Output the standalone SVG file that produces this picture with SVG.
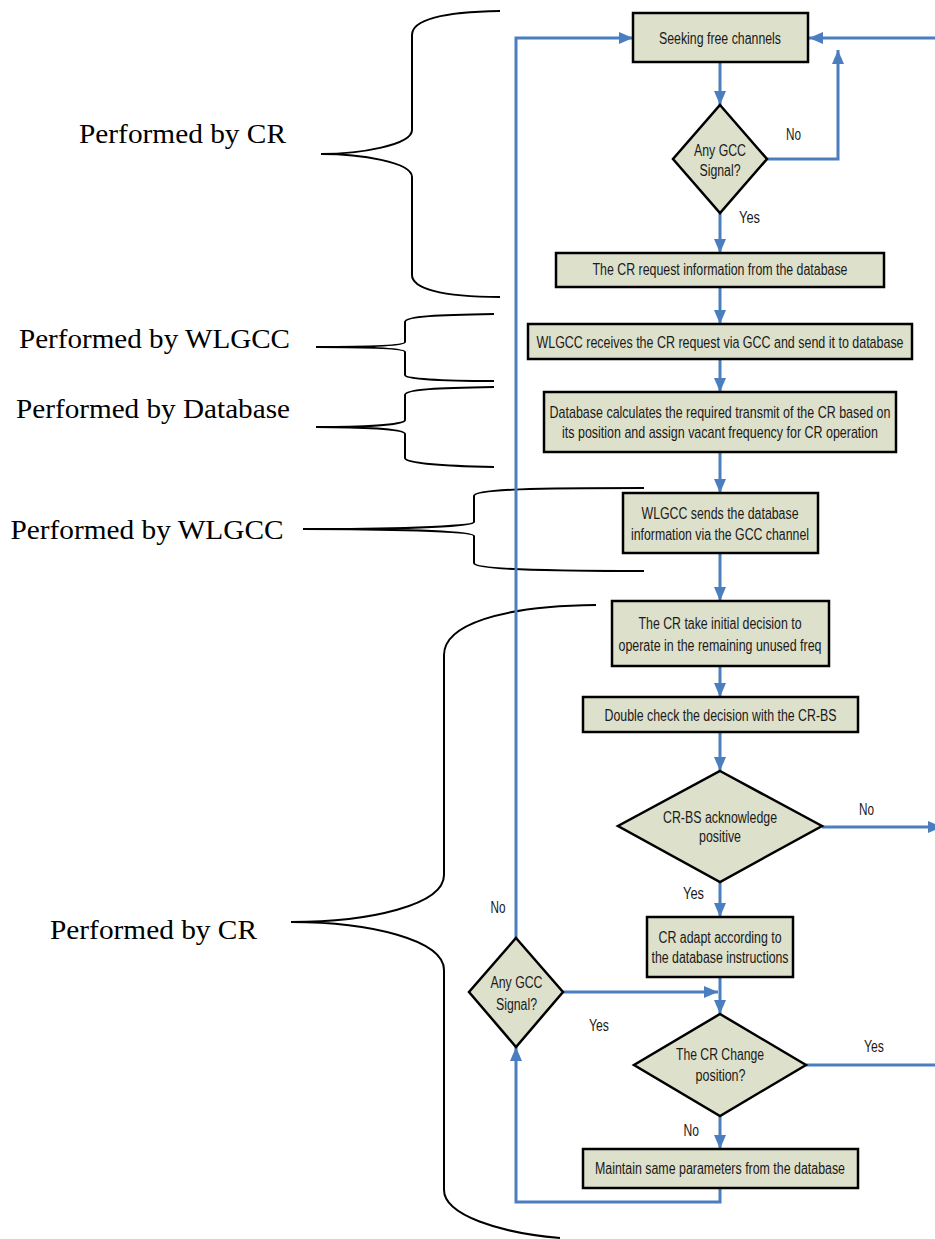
<svg xmlns="http://www.w3.org/2000/svg" width="935" height="1239" viewBox="0 0 935 1239">
<defs>
<style>
.box{fill:#dde0ca;stroke:#000;stroke-width:2.5}
.t{font-family:"Liberation Sans",Arial,sans-serif;font-size:16px;fill:#1a1a1a;text-anchor:middle}
.l{font-family:"Liberation Sans",Arial,sans-serif;font-size:16px;fill:#1a1a1a}
.c{fill:none;stroke:#4a7ebf;stroke-width:3}
.b{fill:none;stroke:#000;stroke-width:2}
.p{font-family:"Liberation Serif","Times New Roman",serif;font-size:28px;fill:#000}
</style>
<marker id="ah" markerUnits="userSpaceOnUse" markerWidth="14" markerHeight="12" refX="14" refY="6" orient="auto">
<path d="M0,0 L14,6 L0,12 z" fill="#4a7ebf"/>
</marker>
</defs>
<rect width="935" height="1239" fill="#fff"/>

<g id="braces">
<path class="b" d="M500,11 C440,12 412,20 412,35 L412,130 C412,145 360,154 321,154 C360,154 412,162 412,177 L412,275 C412,288 440,297 500,297"/>
<path class="b" d="M494,314 C440,315 405,316 405,322 L405,342 C405,346 360,347 316,347 C360,347 405,348 405,352 L405,375 C405,379 440,381 494,381"/>
<path class="b" d="M494,387 C440,388 405,389 405,395 L405,420 C405,425 360,427 316,427 C360,427 405,429 405,434 L405,458 C405,463 440,466 494,467"/>
<path class="b" d="M644,488 C540,488 474,489 474,496 L474,522 C474,527 380,529 303,529 C380,529 474,531 474,536 L474,563 C474,569 540,571 644,571"/>
<path class="b" d="M596,605 C500,606 444,625 444,655 L444,875 C444,905 370,922 291,922 C370,922 444,940 444,970 L444,1190 C444,1215 500,1233 560,1238"/>
</g>

<g id="labels-performed">
<text class="p" x="79" y="143" textLength="207" lengthAdjust="spacingAndGlyphs">Performed by CR</text>
<text class="p" x="19" y="348" textLength="271" lengthAdjust="spacingAndGlyphs">Performed by WLGCC</text>
<text class="p" x="16" y="418" textLength="274" lengthAdjust="spacingAndGlyphs">Performed by Database</text>
<text class="p" x="10.5" y="539" textLength="273" lengthAdjust="spacingAndGlyphs">Performed by WLGCC</text>
<text class="p" x="50" y="939" textLength="207" lengthAdjust="spacingAndGlyphs">Performed by CR</text>
</g>

<g id="connectors">
<path class="c" d="M720,62 L720,105" marker-end="url(#ah)"/>
<path class="c" d="M767,159 L838,159 L838,50" marker-end="url(#ah)"/>
<path class="c" d="M935,38 L809,38" marker-end="url(#ah)"/>
<path class="c" d="M720,213 L720,253" marker-end="url(#ah)"/>
<path class="c" d="M720,287 L720,324" marker-end="url(#ah)"/>
<path class="c" d="M720,359 L720,392" marker-end="url(#ah)"/>
<path class="c" d="M720,452 L720,493" marker-end="url(#ah)"/>
<path class="c" d="M720,553 L720,601" marker-end="url(#ah)"/>
<path class="c" d="M720,666 L720,697" marker-end="url(#ah)"/>
<path class="c" d="M720,732 L720,771" marker-end="url(#ah)"/>
<path class="c" d="M822,827 L942,827" marker-end="url(#ah)"/>
<path class="c" d="M720,882 L720,917" marker-end="url(#ah)"/>
<path class="c" d="M720,977 L720,1014" marker-end="url(#ah)"/>
<path class="c" d="M563,992 L718,992" marker-end="url(#ah)"/>
<path class="c" d="M806,1065 L935,1065"/>
<path class="c" d="M720,1116 L720,1149" marker-end="url(#ah)"/>
<path class="c" d="M720,1188 L720,1202 L516,1202 L516,1047" marker-end="url(#ah)"/>
<path class="c" d="M516,938 L516,38 L633,38" marker-end="url(#ah)"/>
</g>

<g id="n-seek">
<rect class="box" x="633" y="13" width="175" height="49"/>
<text class="t" x="720" y="43.5" textLength="122" lengthAdjust="spacingAndGlyphs">Seeking free channels</text>
</g>
<g id="n-gcc1">
<polygon class="box" points="720,105 767,159 720,213 673,159"/>
<text class="t" x="720" y="156" textLength="52" lengthAdjust="spacingAndGlyphs">Any GCC</text>
<text class="t" x="720" y="175.5" textLength="41" lengthAdjust="spacingAndGlyphs">Signal?</text>
</g>
<g id="n-request">
<rect class="box" x="556" y="253" width="328" height="34"/>
<text class="t" x="720" y="274.5" textLength="255" lengthAdjust="spacingAndGlyphs">The CR request information from the database</text>
</g>
<g id="n-wlgcc-recv">
<rect class="box" x="528" y="324" width="384" height="35"/>
<text class="t" transform="translate(720,347.5) scale(0.78,1)" x="0" y="0">WLGCC receives the CR request via GCC and send it to database</text>
</g>
<g id="n-db">
<rect class="box" x="544" y="392" width="352" height="60"/>
<text class="t" transform="translate(720,417.5) scale(0.78,1)" x="0" y="0">Database calculates the required transmit of the CR based on</text>
<text class="t" transform="translate(720,437.5) scale(0.78,1)" x="0" y="0">its position and assign vacant frequency for CR operation</text>
</g>
<g id="n-wlgcc-send">
<rect class="box" x="623" y="493" width="195" height="60"/>
<text class="t" x="720" y="519" textLength="157" lengthAdjust="spacingAndGlyphs">WLGCC sends the database</text>
<text class="t" x="720" y="540" textLength="178" lengthAdjust="spacingAndGlyphs">information via the GCC channel</text>
</g>
<g id="n-decision">
<rect class="box" x="612" y="601" width="217" height="65"/>
<text class="t" x="720" y="629" textLength="163" lengthAdjust="spacingAndGlyphs">The CR take initial decision to</text>
<text class="t" x="720" y="650.5" textLength="203" lengthAdjust="spacingAndGlyphs">operate in the remaining unused freq</text>
</g>
<g id="n-double">
<rect class="box" x="583" y="697" width="275" height="35"/>
<text class="t" x="720.5" y="720.5" textLength="232" lengthAdjust="spacingAndGlyphs">Double check the decision with the CR-BS</text>
</g>
<g id="n-ack">
<polygon class="box" points="720,771 822,826 720,882 618,826"/>
<text class="t" x="720" y="822.5" textLength="114" lengthAdjust="spacingAndGlyphs">CR-BS acknowledge</text>
<text class="t" x="720" y="842" textLength="42" lengthAdjust="spacingAndGlyphs">positive</text>
</g>
<g id="n-adapt">
<rect class="box" x="647" y="917" width="146" height="60"/>
<text class="t" x="720" y="942.5" textLength="123" lengthAdjust="spacingAndGlyphs">CR adapt according to</text>
<text class="t" x="720" y="962.5" textLength="137" lengthAdjust="spacingAndGlyphs">the database instructions</text>
</g>
<g id="n-gcc2">
<polygon class="box" points="516,938 563,992 516,1047 469,992"/>
<text class="t" x="516.5" y="988" textLength="52" lengthAdjust="spacingAndGlyphs">Any GCC</text>
<text class="t" x="516.5" y="1010" textLength="41" lengthAdjust="spacingAndGlyphs">Signal?</text>
</g>
<g id="n-change">
<polygon class="box" points="720,1014 806,1065 720,1116 634,1065"/>
<text class="t" x="720" y="1060" textLength="88" lengthAdjust="spacingAndGlyphs">The CR Change</text>
<text class="t" x="720.5" y="1081" textLength="50" lengthAdjust="spacingAndGlyphs">position?</text>
</g>
<g id="n-maintain">
<rect class="box" x="583" y="1149" width="275" height="39"/>
<text class="t" x="720" y="1174" textLength="250" lengthAdjust="spacingAndGlyphs">Maintain same parameters from the database</text>
</g>

<g id="edge-labels">
<text class="l" x="786" y="140" textLength="15" lengthAdjust="spacingAndGlyphs">No</text>
<text class="l" x="739" y="222.5" textLength="21" lengthAdjust="spacingAndGlyphs">Yes</text>
<text class="l" x="859" y="815" textLength="15" lengthAdjust="spacingAndGlyphs">No</text>
<text class="l" x="683" y="899" textLength="21" lengthAdjust="spacingAndGlyphs">Yes</text>
<text class="l" x="490.5" y="912.5" textLength="15" lengthAdjust="spacingAndGlyphs">No</text>
<text class="l" x="589" y="1031" textLength="20" lengthAdjust="spacingAndGlyphs">Yes</text>
<text class="l" x="864" y="1051.5" textLength="20" lengthAdjust="spacingAndGlyphs">Yes</text>
<text class="l" x="683.5" y="1135.5" textLength="15.5" lengthAdjust="spacingAndGlyphs">No</text>
</g>
</svg>
